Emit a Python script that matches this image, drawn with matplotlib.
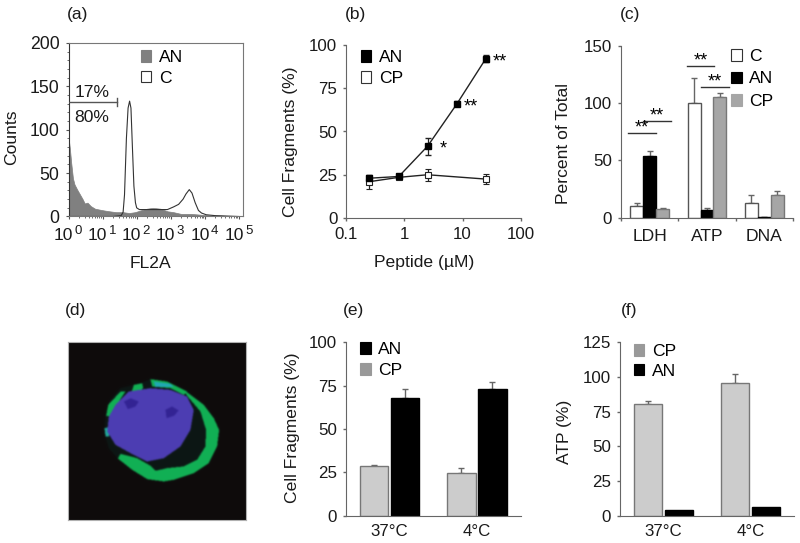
import numpy as np
import matplotlib
matplotlib.use('Agg')
import matplotlib.pyplot as plt
from matplotlib.path import Path
from matplotlib.patches import Patch

plt.rcParams['font.family'] = ['Liberation Sans', 'DejaVu Sans']
plt.rcParams['font.size'] = 12.6

W, H = 800, 543
FS = 12.6
TS = 12.2

# (a) histogram, FL2A vs counts
an_x = [1, 1.1, 1.2, 1.35, 1.5, 1.8, 2.2, 2.6, 3, 3.6, 4.5, 6, 8, 11, 16, 25, 40, 60, 90, 130, 200, 300, 500, 800, 1200, 2000, 4000, 8000, 15000, 30000, 100000]
an_y = [92, 78, 62, 44, 37, 31, 25, 20, 15, 16, 12, 9, 8, 7, 6, 5, 5, 4, 5, 7, 9, 10, 9, 6, 5, 3, 3, 2, 1, 1, 0]
c_x = [1, 5, 20, 35, 40, 44, 50, 56, 62, 68, 75, 83, 92, 100, 120, 200, 400, 800, 1200, 1700, 2300, 2800, 3500, 4200, 5200, 6500, 8000, 11000, 20000, 100000]
c_y = [0, 0, 0, 1, 5, 25, 90, 125, 133, 125, 80, 35, 16, 10, 8, 8, 8, 8, 11, 14, 20, 26, 31, 27, 16, 7, 4, 2, 1, 0]

# (b) dose response
pep_an = [0.25, 0.8, 2.5, 8, 25]
an_frag = [23, 24, 41.5, 66, 92]
an_err = [2, 1.5, 5, 1.5, 2]
pep_cp = [0.25, 0.8, 2.5, 25]
cp_frag = [21, 23.5, 25, 22.5]
cp_err = [4, 1, 3.5, 3]

# (c) release
c_cats = ['LDH', 'ATP', 'DNA']
c_c = [10, 100, 13]
c_c_err = [2.5, 22, 7]
c_an = [54, 7, 0.5]
c_an_err = [4.5, 1.5, 0]
c_cp = [7.5, 105.5, 19.5]
c_cp_err = [1, 3.5, 3.5]

# (e) and (f) temperature
temps = ['37°C', '4°C']
e_cp = [28.5, 24.5]
e_cp_err = [0.7, 3]
e_an = [68, 73]
e_an_err = [5, 4]
f_cp = [80.5, 95.5]
f_cp_err = [2.5, 6.5]
f_an = [4, 6.5]

# (d) micrograph outlines
cell_outer = [(330, 268), (380, 275), (440, 305), (490, 345), (520, 385), (536, 420), (530, 470), (505, 520), (460, 550), (400, 570), (370, 575), (320, 568), (275, 540), (235, 510), (205, 475), (192, 430), (195, 375), (210, 330), (240, 295), (300, 280)]
crescent = [(430, 300), (490, 345), (520, 385), (536, 420), (530, 470), (505, 520), (460, 550), (400, 570), (370, 575), (320, 568), (275, 540), (232, 506), (240, 492), (290, 505), (330, 528), (345, 543), (380, 535), (430, 530), (470, 510), (495, 470), (497, 420), (480, 365), (440, 318)]
top_strip = [(330, 268), (380, 275), (440, 305), (430, 315), (390, 295), (335, 290)]
left_patch = [(203, 345), (240, 305), (255, 305), (228, 345), (208, 380), (197, 378)]
small_patch = [(280, 285), (305, 280), (308, 295), (285, 315), (272, 310)]
nucleus = [(330, 295), (390, 300), (440, 320), (460, 360), (450, 420), (420, 470), (370, 505), (320, 515), (270, 490), (225, 465), (200, 425), (205, 380), (225, 345), (265, 305)]
cyan_bit = [(340, 275), (390, 282), (400, 292), (345, 292)]
cyan_left = [(192, 415), (205, 412), (205, 440), (195, 440)]
spot_a = [(250, 335), (270, 325), (295, 335), (285, 350), (262, 358)]
spot_b = [(375, 360), (395, 350), (415, 362), (400, 378), (378, 385)]


def axes_px(left, top, right, bottom):
    return fig.add_axes([left / W, 1 - bottom / H, (right - left) / W, (bottom - top) / H])


def labels(ax, ylabel, yx, yy, xlabel=None, xx=None, xy=None):
    ax.set_ylabel(ylabel, fontsize=FS, va='center', color='#1a1a1a')
    ax.yaxis.set_label_coords(yx / W, 1 - yy / H, transform=fig.transFigure)
    if xlabel:
        ax.set_xlabel(xlabel, fontsize=FS, va='center', color='#1a1a1a')
        ax.xaxis.set_label_coords(xx / W, 1 - xy / H, transform=fig.transFigure)


def style(ax, grey='#666666'):
    for s in ['top', 'right']:
        ax.spines[s].set_visible(False)
    for s in ['left', 'bottom']:
        ax.spines[s].set_color(grey)
    ax.tick_params(axis='both', color=grey, length=2, width=1, pad=4.5, labelsize=TS, labelcolor='#1a1a1a')


def legend(ax, handles, loc, spacing=0.33):
    ax.legend(handles=handles, loc='upper left', bbox_to_anchor=loc, frameon=False, fontsize=FS,
              handlelength=0.6, handleheight=0.65, handletextpad=0.42, labelspacing=spacing, borderpad=0, borderaxespad=0)


def box(color, label, edge='#333333'):
    return Patch(facecolor=color, edgecolor=edge, linewidth=0.8, label=label)


def bars(ax, xs, vals, errs, width, color, edge):
    ax.bar(xs, vals, width, color=color, edgecolor=edge, linewidth=1, zorder=2)
    if errs is not None:
        up = [np.zeros(len(errs)), errs]
        ax.errorbar(xs, vals, yerr=up, fmt='none', ecolor='#666666', elinewidth=1, capsize=2, capthick=1, zorder=1)


fig = plt.figure(figsize=(W / 100, H / 100), dpi=100)

for label, x, y in [('(a)', 78, 14), ('(b)', 356, 15), ('(c)', 630, 15), ('(d)', 76, 310), ('(e)', 354, 310), ('(f)', 629, 310)]:
    fig.text(x / W, 1 - y / H, label, ha='center', va='center', fontsize=12.5, color='#1a1a1a')

# (a)
ax = axes_px(68.5, 43, 243, 216.5)
ax.set_xscale('log')
ax.set_xlim(1, 10 ** 5.12)
ax.set_ylim(0, 200)
ax.fill_between(an_x, an_y, color='#808080', linewidth=0.5, zorder=2)
ax.plot(c_x, c_y, color='#333333', linewidth=0.8, zorder=3)
for s in ax.spines.values():
    s.set_color('#777777')
ax.spines['left'].set_color('#333333')
ax.tick_params(axis='both', color='#555555', length=2, pad=4.5, labelsize=12.7, labelcolor='#1a1a1a')
ax.set_yticks([0, 50, 100, 150, 200])
ax.set_yticks(np.arange(0, 200, 10), minor=True)
ax.tick_params(axis='y', which='minor', length=1.5, color='#555555')
ax.set_xticks([10 ** i for i in range(6)])
ax.set_xticks([m * 10 ** i for i in range(5) for m in range(2, 10)], minor=True)
ax.set_xticklabels([])
ax.set_xticklabels([], minor=True)
ax.tick_params(axis='x', which='minor', length=1.2, color='#555555')
for i in range(6):
    ax.annotate('10', (10 ** i, 0), xytext=(-3.6, -8.3), textcoords='offset points', ha='center', va='top', fontsize=12.5, color='#1a1a1a', xycoords=('data', 'axes fraction'))
    ax.annotate(str(i), (10 ** i, 0), xytext=(7, -6), textcoords='offset points', ha='center', va='top', fontsize=9.5, color='#1a1a1a', xycoords=('data', 'axes fraction'))
labels(ax, 'Counts', 12, 137, 'FL2A', 150, 263)
ax.plot([1, 26], [132, 132], color='#555555', linewidth=1, zorder=4)
ax.plot([26, 26], [127, 137], color='#555555', linewidth=1, zorder=4)
ax.text(4.9, 143, '17%', ha='center', va='center', fontsize=FS, color='#1a1a1a')
ax.text(4.9, 114, '80%', ha='center', va='center', fontsize=FS, color='#1a1a1a')
legend(ax, [box('#808080', 'AN', '#808080'), box('white', 'C')], (0.415, 0.96))

# (b)
ax = axes_px(346.3, 45, 520.7, 218)
ax.set_xscale('log')
ax.set_xlim(0.1, 100)
ax.set_ylim(0, 100)
style(ax)
ax.tick_params(axis='x', which='minor', bottom=False)
ax.set_xticks([0.1, 1, 10, 100])
ax.set_xticklabels(['0.1', '1', '10', '100'])
ax.set_yticks([0, 25, 50, 75, 100])
ax.errorbar(pep_cp, cp_frag, yerr=cp_err, color='#222222', linewidth=1, marker='s', markersize=4.5, markerfacecolor='white', markeredgecolor='#222222', markeredgewidth=0.8, ecolor='#222222', elinewidth=0.9, capsize=2)
ax.errorbar(pep_an, an_frag, yerr=an_err, color='#222222', linewidth=1, marker='s', markersize=5, markerfacecolor='black', markeredgecolor='black', ecolor='#222222', elinewidth=0.9, capsize=2)
ax.text(33, 90, '**', fontsize=13, va='center')
ax.text(10.5, 64, '**', fontsize=13, va='center')
ax.text(4, 40, '*', fontsize=13, va='center')
labels(ax, 'Cell Fragments (%)', 290, 142, 'Peptide (µM)', 424, 263)
legend(ax, [box('black', 'AN', 'black'), box('white', 'CP')], (0.084, 0.97))

# (c)
ax = axes_px(621, 45.7, 793, 217.7)
ax.set_xlim(0, 3)
ax.set_ylim(0, 150)
style(ax)
pos = np.arange(3) + 0.5
bw = 0.224
bars(ax, pos - bw, c_c, c_c_err, bw, 'white', '#555555')
bars(ax, pos, c_an, c_an_err, bw, 'black', 'black')
bars(ax, pos + bw, c_cp, c_cp_err, bw, '#a6a6a6', '#777777')
ax.set_xticks([0, 1, 2, 3])
ax.set_xticklabels([])
for p, name in zip(pos, c_cats):
    ax.annotate(name, (p, 0), xytext=(0, -8), textcoords='offset points', ha='center', va='top', fontsize=FS, color='#1a1a1a', xycoords=('data', 'axes fraction'))
ax.set_yticks([0, 50, 100, 150])
labels(ax, 'Percent of Total', 564, 143)
for x0, x1, y in [(0.13, 0.605, 73.5), (0.39, 0.866, 84.6), (1.15, 1.63, 132), (1.395, 1.878, 113.7)]:
    ax.plot([x0, x1], [y, y], color='#333333', linewidth=1)
    ax.text((x0 + x1) / 2, y - 3, '**', ha='center', va='bottom', fontsize=13)
legend(ax, [box('white', 'C'), box('black', 'AN', 'black'), box('#a6a6a6', 'CP', '#a6a6a6')], (0.64, 0.98), 0.42)

# (d)
ax = axes_px(67.7, 342, 246, 520)
xs, ys = np.meshgrid(np.linspace(83, 619, 358), np.linspace(157, 690, 356))
pts = np.column_stack([xs.ravel(), ys.ravel()])


def mask(poly):
    return Path(poly).contains_points(pts).reshape(xs.shape)


green = (0.07, 0.69, 0.33)
img = np.empty(xs.shape + (3,))
img[:] = (0.055, 0.047, 0.047)
img[mask(cell_outer)] = (0.05, 0.09, 0.08)
img[mask(crescent)] = green
img[mask(top_strip)] = green
img[mask(left_patch)] = green
img[mask(small_patch)] = green
img[mask(cyan_bit)] = (0.13, 0.66, 0.70)
img[mask(cyan_left)] = (0.13, 0.66, 0.60)
img[mask(nucleus)] = (0.30, 0.24, 0.70)
img[mask(spot_a)] = (0.20, 0.14, 0.58)
img[mask(spot_b)] = (0.20, 0.14, 0.58)
for axis in [0, 1]:
    for _ in range(3):
        img = (np.roll(img, 1, axis) + img + np.roll(img, -1, axis)) / 3
ax.imshow(img, extent=(83, 619, 690, 157), aspect='auto', interpolation='bilinear')
ax.set_xticks([])
ax.set_yticks([])
for s in ax.spines.values():
    s.set_color('#b0b0b0')

# (e)
pos = np.arange(2) + 0.5
bw = 0.326
shift = 0.177
ax = axes_px(345.7, 342.3, 520.7, 515.7)
ax.set_xlim(0, 2)
ax.set_ylim(0, 100)
style(ax)
bars(ax, pos - shift, e_cp, e_cp_err, bw, '#cccccc', '#777777')
bars(ax, pos + shift, e_an, e_an_err, bw, 'black', 'black')
ax.set_xticks(pos)
ax.set_xticklabels(temps)
ax.tick_params(axis='x', length=0, pad=6)
ax.set_yticks([0, 25, 50, 75, 100])
labels(ax, 'Cell Fragments (%)', 292, 428)
legend(ax, [box('black', 'AN', 'black'), box('#999999', 'CP', '#999999')], (0.082, 1.0))

# (f)
ax = axes_px(620, 342.3, 794, 515.7)
ax.set_xlim(0, 2)
ax.set_ylim(0, 125)
style(ax)
bars(ax, pos - shift, f_cp, f_cp_err, bw, '#cccccc', '#777777')
bars(ax, pos + shift, f_an, None, bw, 'black', 'black')
ax.set_xticks(pos)
ax.set_xticklabels(temps)
ax.tick_params(axis='x', length=0, pad=6)
ax.set_yticks([0, 25, 50, 75, 100, 125])
labels(ax, 'ATP (%)', 565, 432)
legend(ax, [box('#999999', 'CP', '#999999'), box('black', 'AN', 'black')], (0.08, 0.99), 0.27)

fig.savefig('out.png', dpi=100)
